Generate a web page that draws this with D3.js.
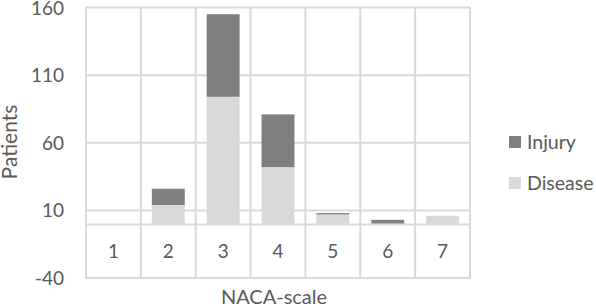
<!DOCTYPE html>
<html><head><meta charset="utf-8">
<script src="https://cdn.jsdelivr.net/npm/d3@7"></script>
<style>body{margin:0;background:#fff}svg{display:block}</style>
</head><body>
<svg id="c" width="596" height="307"></svg>
<script>
const categories = ["1","2","3","4","5","6","7"];
const disease = [0, 14, 94, 42, 7, 0, 6];
const injury  = [0, 12, 61, 39, 1, 3, 0];
const yTicks = [-40, 10, 60, 110, 160];
const seriesNames = ["Injury", "Disease"];
const colors = {Injury: "#7f7f7f", Disease: "#d9d9d9"};

const svg = d3.select("#c");
const L = 86, R = 470, T = 7.5, B = 278;
const x = d3.scaleBand().domain(categories).range([L, R]).paddingInner(0.4).paddingOuter(0.2);
const y = d3.scaleLinear().domain([-40, 160]).range([B, T]);
const grid = "#d9d9d9", txt = "#595959", font = "Lato, 'Open Sans', sans-serif";

svg.append("g").selectAll("line").data(yTicks).join("line")
  .attr("x1", L).attr("x2", R).attr("y1", d => y(d)).attr("y2", d => y(d))
  .attr("stroke", grid).attr("stroke-width", 2);
const bounds = categories.map(c => x(c) - x.step() * x.paddingInner() / 2).concat([R]);
bounds[0] = L;
svg.append("g").selectAll("line").data(bounds).join("line")
  .attr("x1", d => d).attr("x2", d => d).attr("y1", y(160) - 1).attr("y2", y(-40) + 1)
  .attr("stroke", grid).attr("stroke-width", 2);

const rows = categories.map((c, i) => ({cat: c, Disease: disease[i], Injury: injury[i]}));
const stack = d3.stack().keys(["Disease", "Injury"])(rows);
svg.append("g").selectAll("g").data(stack).join("g")
  .attr("fill", d => colors[d.key])
  .selectAll("rect").data(d => d).join("rect")
  .attr("x", d => x(d.data.cat)).attr("width", x.bandwidth())
  .attr("y", d => y(d[1])).attr("height", d => Math.max(0, y(d[0]) - y(d[1])));

svg.append("line").attr("x1", L).attr("x2", R).attr("y1", y(0) + 0.5).attr("y2", y(0) + 0.5)
  .attr("stroke", grid).attr("stroke-width", 2);

svg.append("g").selectAll("text").data(categories).join("text")
  .attr("x", d => x(d) + x.bandwidth() / 2).attr("y", (y(0) + y(-40)) / 2 + 7)
  .attr("text-anchor", "middle").attr("fill", txt).attr("font-family", font).attr("font-size", 19)
  .text(d => d);

svg.append("g").selectAll("text").data(yTicks).join("text")
  .attr("x", 64).attr("y", d => y(d) + 7)
  .attr("text-anchor", "end").attr("fill", txt).attr("font-family", font).attr("font-size", 19)
  .text(d => d);

svg.append("text").attr("transform", `translate(17,${142}) rotate(-90)`)
  .attr("text-anchor", "middle").attr("fill", txt).attr("font-family", font).attr("font-size", 21)
  .text("Patients");
svg.append("text").attr("x", 274).attr("y", 304)
  .attr("text-anchor", "middle").attr("fill", txt).attr("font-family", font).attr("font-size", 20)
  .text("NACA-scale");

const lg = svg.append("g").selectAll("g").data(seriesNames).join("g")
  .attr("transform", (d, i) => `translate(509,${142 + i * 41})`);
lg.append("rect").attr("x", 0).attr("y", -6).attr("width", 12).attr("height", 12).attr("fill", d => colors[d]);
lg.append("text").attr("x", 18).attr("y", 7).attr("fill", txt).attr("font-family", font).attr("font-size", 19.5).text(d => d);
</script>
</body></html>
